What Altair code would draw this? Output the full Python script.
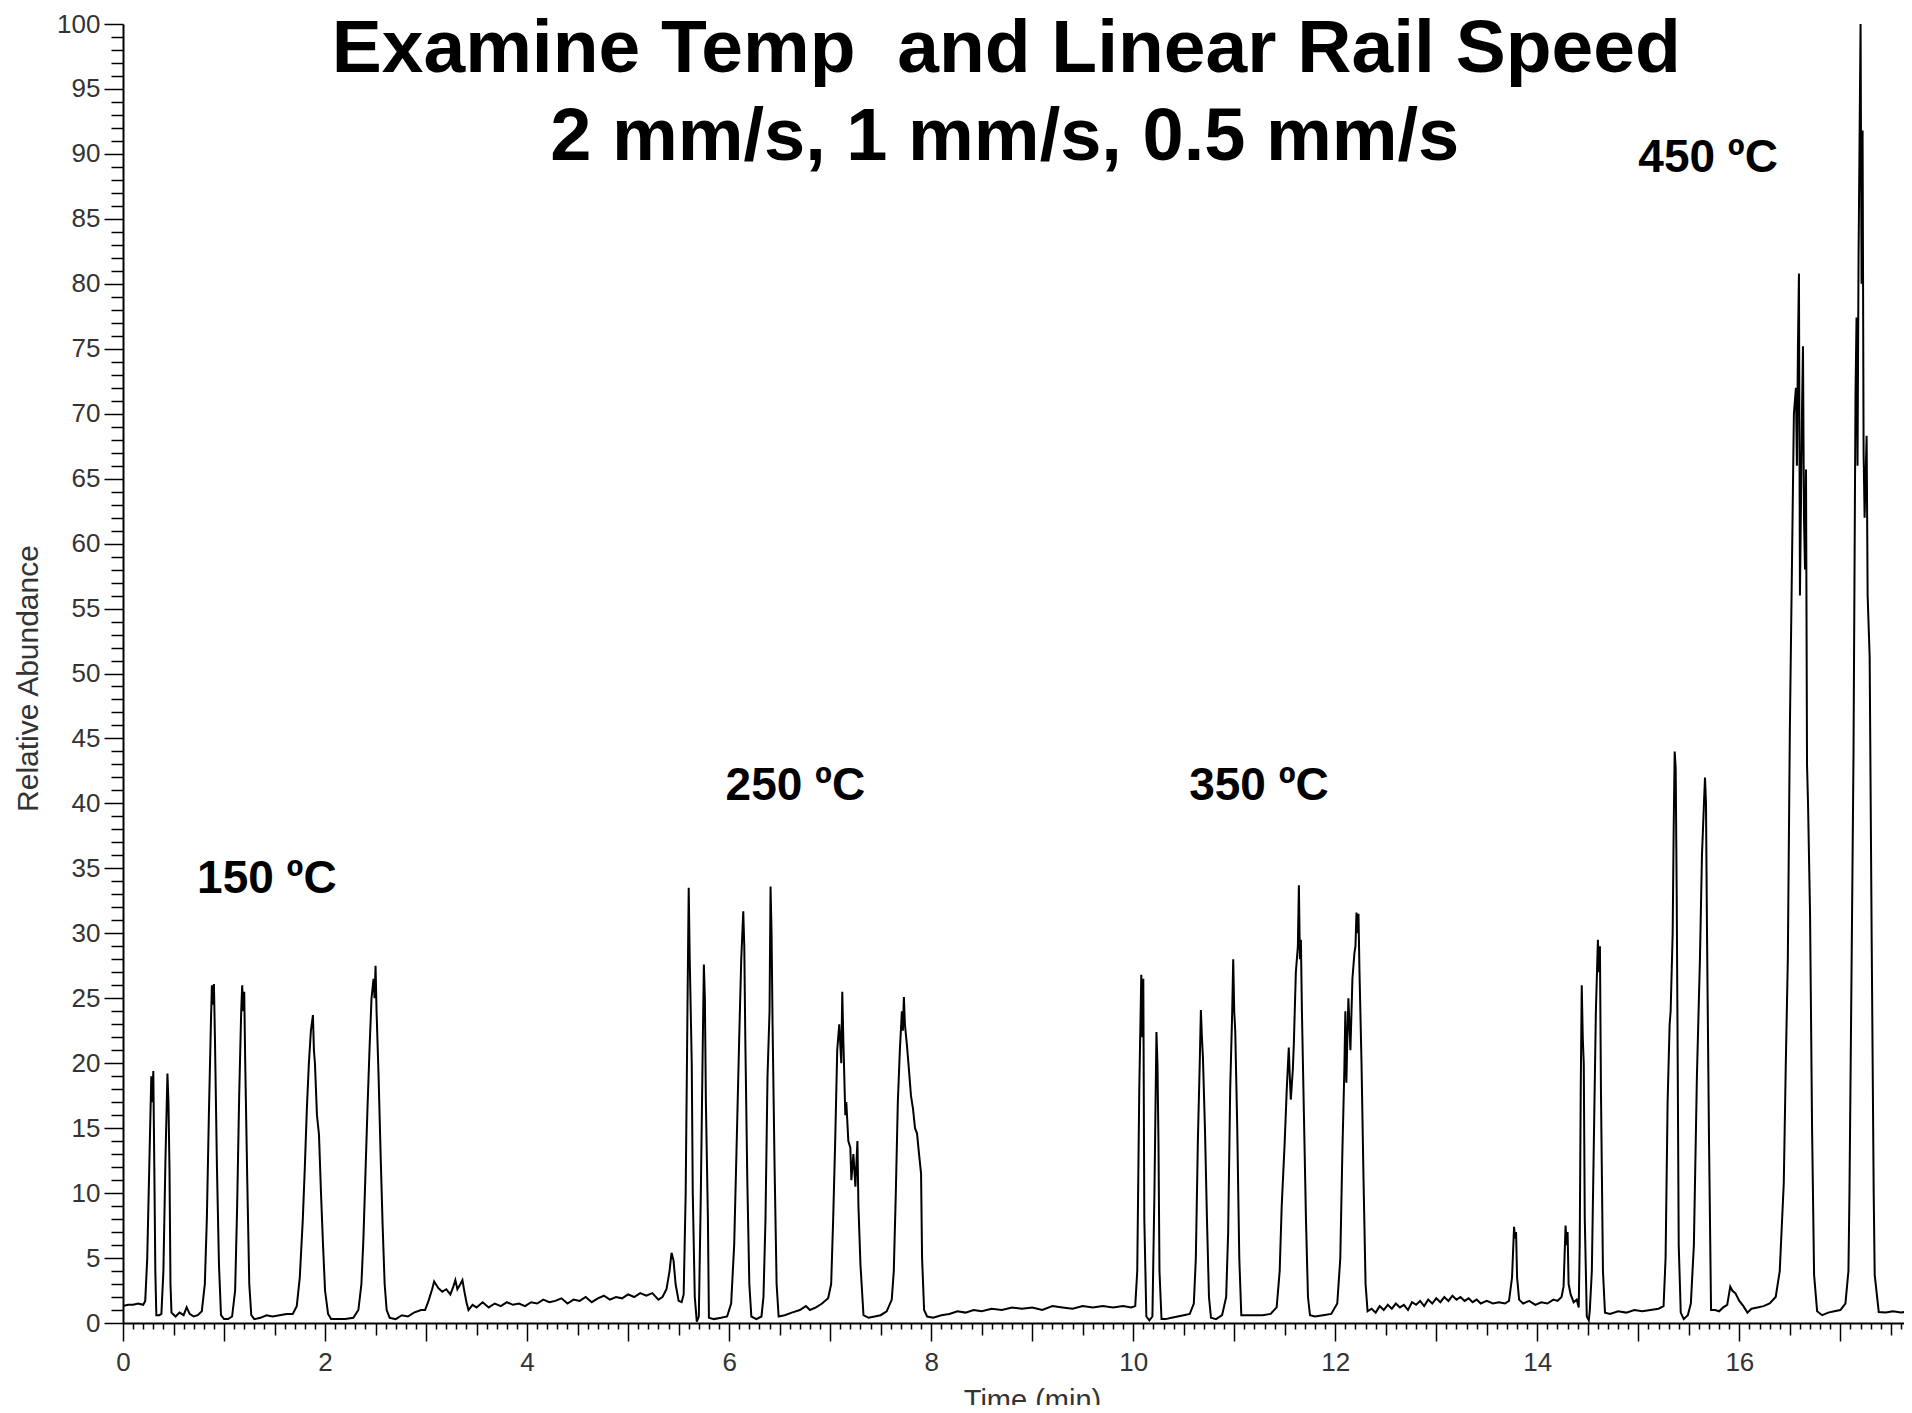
import altair as alt
import pandas as pd

# ---- chromatogram trace: (time [min], relative abundance [%]) ----
seg_150 = [
    (0.00, 1.3), (0.05, 1.4), (0.10, 1.4), (0.15, 1.5), (0.20, 1.4), (0.22, 1.7), (0.24, 5.0),
    (0.26, 12.0), (0.28, 19.0), (0.29, 17.0), (0.30, 19.4), (0.31, 12.0), (0.32, 4.0), (0.33, 0.6),
    (0.36, 0.6), (0.38, 0.7), (0.40, 4.0), (0.42, 12.5), (0.44, 19.2), (0.45, 17.0), (0.46, 12.0),
    (0.47, 3.0), (0.48, 0.8), (0.52, 0.5), (0.56, 0.8), (0.60, 0.6), (0.63, 1.2), (0.66, 0.7),
    (0.70, 0.5), (0.74, 0.6), (0.78, 0.9), (0.81, 3.0), (0.83, 8.0), (0.85, 16.0), (0.87, 23.0),
    (0.88, 26.0), (0.89, 24.5), (0.90, 26.1), (0.91, 22.0), (0.93, 12.0), (0.95, 4.5), (0.97, 0.6),
    (1.00, 0.3), (1.04, 0.3), (1.08, 0.5), (1.11, 2.5), (1.13, 9.0), (1.15, 17.5), (1.17, 24.0),
    (1.18, 26.0), (1.19, 24.0), (1.20, 25.5), (1.21, 20.0), (1.23, 11.0), (1.25, 3.0), (1.27, 0.6),
    (1.30, 0.3), (1.36, 0.4), (1.42, 0.6), (1.48, 0.5), (1.55, 0.6), (1.62, 0.7), (1.68, 0.7),
    (1.72, 1.3), (1.75, 3.5), (1.78, 8.0), (1.80, 12.0), (1.82, 16.5), (1.84, 20.0), (1.86, 22.5),
    (1.88, 23.7), (1.89, 21.0), (1.90, 20.0), (1.92, 16.0), (1.94, 14.5), (1.96, 10.0), (1.98, 6.0),
    (2.00, 2.5), (2.03, 0.7), (2.06, 0.3), (2.12, 0.3), (2.20, 0.3), (2.28, 0.4), (2.33, 1.0),
    (2.36, 3.0), (2.38, 6.5), (2.40, 11.5), (2.42, 16.5), (2.44, 21.0), (2.46, 25.0), (2.48, 26.5),
    (2.49, 25.0), (2.50, 27.5), (2.51, 24.0), (2.53, 19.0), (2.55, 13.0), (2.57, 7.5), (2.59, 3.0),
    (2.61, 1.0), (2.64, 0.4), (2.70, 0.3), (2.76, 0.6), (2.82, 0.5), (2.88, 0.8), (2.95, 1.0),
    (2.99, 1.0), (3.02, 1.6), (3.06, 2.6), (3.08, 3.2), (3.12, 2.7), (3.16, 2.4), (3.20, 2.6),
    (3.24, 2.2), (3.27, 2.8), (3.29, 3.3), (3.31, 2.6), (3.34, 3.0), (3.36, 3.3), (3.38, 2.4),
    (3.40, 1.6), (3.42, 1.0), (3.46, 1.4),
]

seg_250 = [
    (3.50, 1.2), (3.56, 1.6), (3.62, 1.2), (3.68, 1.5), (3.74, 1.3), (3.80, 1.6), (3.86, 1.4),
    (3.92, 1.5), (3.98, 1.3), (4.04, 1.6), (4.10, 1.5), (4.16, 1.8), (4.22, 1.6), (4.28, 1.7),
    (4.34, 1.9), (4.40, 1.5), (4.46, 1.8), (4.52, 1.7), (4.58, 2.0), (4.64, 1.6), (4.70, 1.9),
    (4.76, 2.1), (4.82, 1.8), (4.88, 2.0), (4.94, 1.9), (5.00, 2.2), (5.06, 2.0), (5.12, 2.3),
    (5.18, 2.1), (5.24, 2.3), (5.30, 1.8), (5.34, 2.0), (5.38, 2.6), (5.41, 4.0), (5.43, 5.4),
    (5.45, 4.8), (5.47, 3.0), (5.50, 1.7), (5.53, 1.6), (5.55, 2.2), (5.57, 10.0), (5.59, 26.0),
    (5.60, 33.5), (5.61, 28.0), (5.63, 20.0), (5.64, 10.0), (5.66, 2.0), (5.68, 0.1), (5.70, 0.5),
    (5.72, 10.0), (5.74, 22.0), (5.75, 27.6), (5.76, 25.0), (5.77, 17.0), (5.79, 8.0), (5.80, 0.4),
    (5.85, 0.3), (5.92, 0.4), (5.98, 0.5), (6.02, 1.5), (6.05, 6.0), (6.08, 15.5), (6.10, 22.0),
    (6.12, 28.0), (6.14, 31.7), (6.15, 29.0), (6.16, 22.0), (6.18, 11.0), (6.20, 3.0), (6.22, 0.5),
    (6.27, 0.3), (6.32, 0.5), (6.34, 2.0), (6.36, 8.0), (6.38, 19.0), (6.40, 24.0), (6.41, 33.6),
    (6.42, 30.0), (6.43, 23.0), (6.45, 12.0), (6.47, 3.0), (6.49, 0.5), (6.55, 0.6), (6.62, 0.8),
    (6.70, 1.0), (6.76, 1.3), (6.80, 1.0), (6.86, 1.2), (6.92, 1.5), (6.98, 1.9), (7.01, 3.0),
    (7.03, 8.0), (7.05, 14.0), (7.07, 21.0), (7.09, 23.0), (7.11, 20.0), (7.12, 25.5), (7.13, 22.0),
    (7.15, 16.0), (7.16, 17.0), (7.18, 14.0), (7.20, 13.5), (7.21, 11.0), (7.23, 13.0), (7.25, 10.5),
    (7.27, 14.0), (7.28, 9.0), (7.30, 4.5), (7.33, 0.6), (7.38, 0.4), (7.44, 0.5), (7.50, 0.6),
    (7.56, 0.9), (7.61, 1.8), (7.63, 4.0), (7.65, 10.0), (7.67, 17.0), (7.69, 21.0), (7.71, 24.0),
    (7.72, 22.5), (7.73, 25.1), (7.74, 23.0), (7.76, 21.4), (7.78, 19.5), (7.80, 17.5), (7.82, 16.5),
    (7.84, 15.0), (7.86, 14.6), (7.88, 13.0), (7.90, 11.5), (7.91, 5.0), (7.93, 1.0), (7.96, 0.5),
    (8.02, 0.4), (8.10, 0.6), (8.18, 0.7), (8.26, 0.9), (8.34, 0.8), (8.42, 1.0),
]

seg_350 = [
    (8.50, 0.9), (8.60, 1.1), (8.70, 1.0), (8.80, 1.2), (8.90, 1.1), (9.00, 1.2), (9.10, 1.0),
    (9.20, 1.3), (9.30, 1.2), (9.40, 1.1), (9.50, 1.3), (9.60, 1.2), (9.70, 1.3), (9.80, 1.2),
    (9.90, 1.3), (9.98, 1.2), (10.02, 1.3), (10.04, 4.0), (10.06, 18.0), (10.08, 26.8), (10.09, 22.0),
    (10.10, 26.5), (10.11, 8.0), (10.13, 0.5), (10.16, 0.2), (10.19, 0.5), (10.21, 10.0), (10.23, 22.4),
    (10.24, 20.0), (10.25, 14.0), (10.26, 4.0), (10.28, 0.3), (10.32, 0.3), (10.38, 0.4), (10.44, 0.5),
    (10.50, 0.6), (10.56, 0.7), (10.60, 1.5), (10.62, 5.0), (10.64, 14.0), (10.66, 20.5), (10.67, 24.1),
    (10.68, 22.0), (10.69, 20.5), (10.71, 15.0), (10.73, 8.0), (10.75, 2.0), (10.77, 0.4), (10.82, 0.3),
    (10.88, 0.6), (10.92, 2.0), (10.94, 7.0), (10.96, 18.0), (10.98, 24.0), (10.99, 28.0), (11.00, 24.0),
    (11.01, 22.5), (11.03, 15.0), (11.05, 5.0), (11.07, 0.6), (11.12, 0.6), (11.20, 0.6), (11.28, 0.6),
    (11.36, 0.7), (11.42, 1.2), (11.45, 4.0), (11.47, 9.0), (11.50, 14.0), (11.52, 18.0), (11.54, 21.2),
    (11.55, 19.0), (11.56, 17.2), (11.58, 19.5), (11.59, 21.5), (11.61, 27.0), (11.63, 29.0), (11.64, 33.7),
    (11.65, 28.0), (11.66, 29.5), (11.67, 24.0), (11.69, 16.0), (11.71, 8.0), (11.73, 2.0), (11.75, 0.6),
    (11.80, 0.5), (11.88, 0.6), (11.96, 0.7), (12.02, 1.5), (12.05, 5.0), (12.07, 13.0), (12.09, 19.5),
    (12.10, 24.0), (12.11, 18.5), (12.12, 22.0), (12.13, 25.0), (12.15, 21.0), (12.17, 26.5), (12.19, 28.5),
    (12.20, 29.0), (12.21, 31.6), (12.22, 30.0), (12.23, 31.5), (12.24, 27.0), (12.26, 20.0), (12.28, 11.0),
    (12.30, 3.0), (12.32, 0.9),
]

seg_450 = [
    (12.36, 1.1), (12.40, 0.8), (12.44, 1.3), (12.48, 1.0), (12.52, 1.4), (12.56, 1.1), (12.60, 1.5),
    (12.64, 1.2), (12.68, 1.4), (12.72, 1.0), (12.76, 1.6), (12.80, 1.4), (12.84, 1.7), (12.88, 1.3),
    (12.92, 1.8), (12.96, 1.5), (13.00, 1.9), (13.04, 1.6), (13.08, 2.0), (13.12, 1.7), (13.16, 2.1),
    (13.20, 1.8), (13.24, 2.0), (13.28, 1.7), (13.32, 1.9), (13.36, 1.6), (13.40, 1.8), (13.44, 1.5),
    (13.50, 1.7), (13.56, 1.5), (13.62, 1.6), (13.68, 1.5), (13.72, 1.7), (13.75, 3.5), (13.77, 7.4),
    (13.78, 6.5), (13.79, 7.0), (13.80, 3.5), (13.82, 1.8), (13.86, 1.5), (13.92, 1.7), (13.98, 1.4),
    (14.04, 1.6), (14.10, 1.5), (14.16, 1.8), (14.20, 1.7), (14.24, 2.0), (14.26, 2.8), (14.28, 7.5),
    (14.29, 6.0), (14.30, 7.0), (14.31, 3.0), (14.33, 2.2), (14.36, 1.6), (14.39, 1.8), (14.41, 1.2),
    (14.42, 6.0), (14.43, 18.0), (14.44, 26.0), (14.45, 22.0), (14.46, 20.0), (14.47, 8.0), (14.49, 0.5),
    (14.51, 0.2), (14.52, 1.0), (14.54, 4.0), (14.56, 14.0), (14.58, 24.0), (14.60, 29.5), (14.61, 27.0),
    (14.62, 29.0), (14.63, 18.0), (14.65, 4.0), (14.67, 0.8), (14.72, 0.7), (14.80, 0.9), (14.88, 0.8),
    (14.96, 1.0), (15.04, 0.9), (15.12, 1.0), (15.20, 1.1), (15.25, 1.3), (15.27, 5.0), (15.29, 17.0),
    (15.31, 23.0), (15.32, 24.0), (15.34, 30.0), (15.35, 38.0), (15.36, 44.0), (15.37, 42.7), (15.38, 33.0),
    (15.39, 20.0), (15.40, 6.0), (15.42, 0.8), (15.45, 0.3), (15.49, 0.6), (15.52, 1.5), (15.55, 6.0),
    (15.58, 19.0), (15.61, 28.0), (15.63, 36.0), (15.65, 40.0), (15.66, 42.0), (15.67, 40.0), (15.68, 30.0),
    (15.70, 14.0), (15.72, 1.0), (15.76, 1.0), (15.80, 0.9), (15.84, 1.2), (15.88, 1.4), (15.91, 2.8),
    (15.93, 2.5), (15.96, 2.3), (16.00, 1.7), (16.04, 1.3), (16.08, 0.8), (16.12, 1.1), (16.18, 1.2),
    (16.24, 1.3), (16.30, 1.5), (16.36, 2.0), (16.40, 4.0), (16.44, 10.8), (16.46, 20.0), (16.48, 28.0),
    (16.50, 45.6), (16.52, 57.8), (16.54, 70.0), (16.56, 72.0), (16.57, 66.0), (16.58, 75.0), (16.59, 80.8),
    (16.60, 56.0), (16.62, 70.0), (16.63, 75.2), (16.64, 62.0), (16.65, 58.0), (16.66, 65.7), (16.67, 43.0),
    (16.68, 40.0), (16.70, 31.5), (16.72, 15.0), (16.74, 3.7), (16.77, 0.9), (16.82, 0.6), (16.88, 0.8),
    (16.94, 0.9), (17.00, 1.0), (17.05, 1.5), (17.08, 4.0), (17.09, 9.9), (17.11, 26.5), (17.13, 43.6),
    (17.15, 71.5), (17.16, 77.4), (17.17, 66.0), (17.18, 82.0), (17.19, 91.0), (17.20, 100.0), (17.21, 80.0),
    (17.22, 91.8), (17.23, 67.0), (17.24, 62.0), (17.26, 68.3), (17.27, 56.0), (17.29, 51.3), (17.31, 29.5),
    (17.33, 10.0), (17.34, 3.7), (17.38, 0.85), (17.45, 0.8), (17.52, 0.9), (17.60, 0.8), (17.68, 0.9),
]

# ---- texts ----
title_lines = ["Examine Temp\u00a0 and Linear Rail Speed", "2 mm/s, 1 mm/s, 0.5 mm/s"]
title_t = [8.743, 8.728]
title_v = [96.3, 89.5]
title_sizes = [75, 74]

temp_labels = ["150 ºC", "250 ºC", "350 ºC", "450 ºC"]
temp_t = [0.733, 5.965, 10.554, 15.0]
temp_v = [33.1, 40.3, 40.3, 88.6]

x_ticks = [round(i * 0.1, 1) for i in range(0, 177)]
y_ticks = list(range(0, 101))

trace = pd.DataFrame(seg_150 + seg_250 + seg_350 + seg_450, columns=["t", "v"])
trace["order"] = range(len(trace))
titles = pd.DataFrame({"t": title_t, "v": title_v, "label": title_lines, "size": title_sizes})
temps = pd.DataFrame({"t": temp_t, "v": temp_v, "label": temp_labels})

AXFONT = "Liberation Sans"
x_axis = alt.Axis(
    values=x_ticks,
    labelExpr="abs(datum.value/2 - round(datum.value/2)) < 0.001 ? format(datum.value, 'd') : ''",
    tickSize={"condition": [
        {"test": "abs(datum.value - round(datum.value)) < 0.001", "value": 18},
        {"test": "abs(datum.value*2 - round(datum.value*2)) < 0.001", "value": 12},
    ], "value": 6},
    tickColor="black", tickWidth=1.5,
    domainColor="black", domainWidth=2,
    labelFont=AXFONT, labelFontSize=26, labelColor="#333",
    labelPadding=8, labelFlush=False, labelOverlap=False, labelBound=False,
    title="Time (min)", titleFont=AXFONT, titleFontSize=29, titleFontWeight="normal",
    titleColor="#333", titleX=909, titleY=63, titleBaseline="top", titleAlign="center",
    grid=False,
)
y_axis = alt.Axis(
    values=y_ticks,
    labelExpr="datum.value % 5 === 0 ? datum.label : ''",
    tickSize={"condition": {"test": "datum.value % 5 === 0", "value": 19}, "value": 12},
    tickColor="black", tickWidth=1.5,
    domainColor="black", domainWidth=2,
    labelFont=AXFONT, labelFontSize=26, labelColor="#333",
    labelPadding=4, labelOverlap=False, labelBound=False, labelFlush=False,
    title="Relative Abundance", titleFont=AXFONT, titleFontSize=30, titleFontWeight="normal",
    titleColor="#333", titleX=-95, titleY=654, titleAngle=-90, titleBaseline="middle",
    titleAlign="center",
    grid=False,
)

xs = alt.Scale(domain=[0, 17.63], nice=False, zero=False)
ys = alt.Scale(domain=[0, 100], nice=False, zero=False)

x_enc = alt.X("t:Q", scale=xs, axis=x_axis)
y_enc = alt.Y("v:Q", scale=ys, axis=y_axis)

line = alt.Chart(trace).mark_line(color="black", strokeWidth=2, clip=True).encode(
    x=x_enc, y=y_enc, order="order:Q"
)

title_text = alt.Chart(titles).mark_text(
    font="Liberation Sans", fontWeight="bold", color="black",
    align="center", baseline="alphabetic"
).encode(x=x_enc, y=y_enc, text="label:N", size=alt.Size("size:Q", scale=None, legend=None))

temp_text = alt.Chart(temps).mark_text(
    font="Liberation Sans", fontSize=46, fontWeight="bold", color="black",
    align="left", baseline="alphabetic"
).encode(x=x_enc, y=y_enc, text="label:N")

chart = alt.layer(line, title_text, temp_text).properties(
    width=1781, height=1299,
    autosize=alt.AutoSizeParams(type="none"),
    padding={"left": 115, "top": 16, "right": 0, "bottom": 82},
    background="white",
).configure_view(stroke=None)

chart.save("out.html", embed_options={"renderer": "svg", "actions": False})
